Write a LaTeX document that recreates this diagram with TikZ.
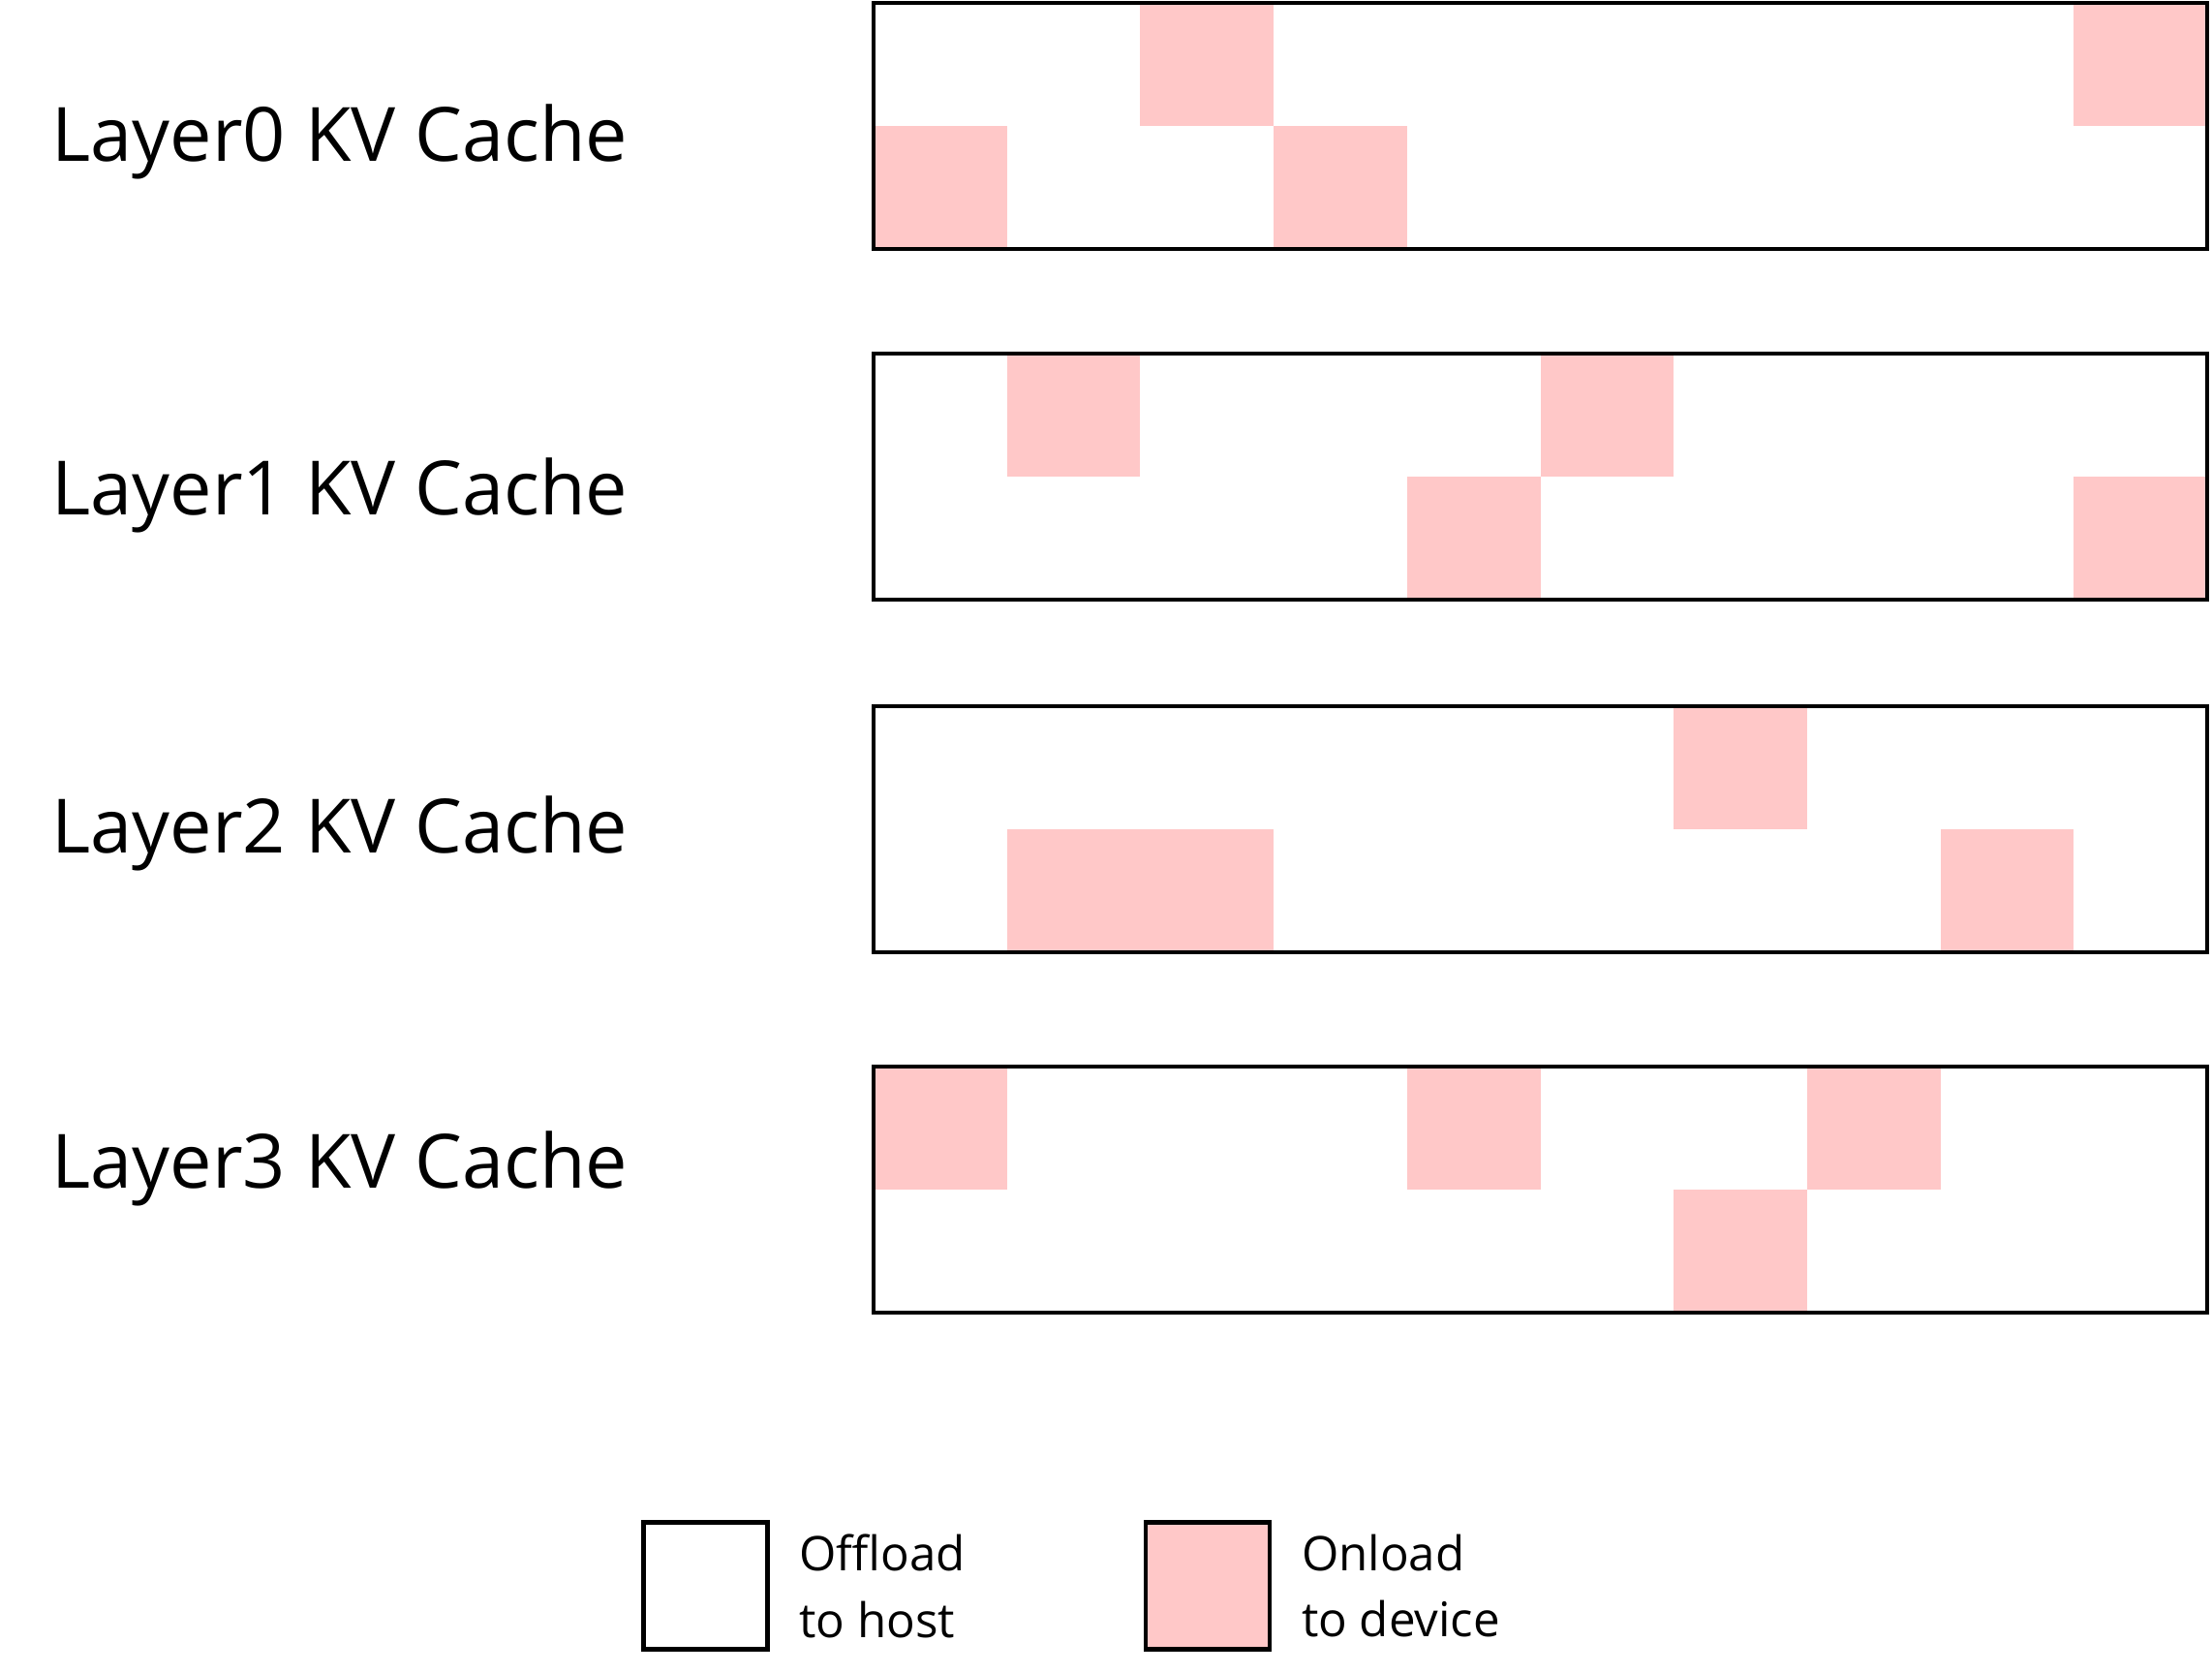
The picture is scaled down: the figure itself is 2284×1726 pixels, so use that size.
\documentclass[tikz,border=0pt]{standalone}
\usepackage{fontspec}
\setmainfont{Open Sans}
\usetikzlibrary{positioning}
\definecolor{onloadPink}{RGB}{255,200,200}
\newcommand{\kvCell}[3]{%%
  \fill[cellStyle] ({\xleft+#2*\cellw},{#1+#3*\cellh}) rectangle ++(\cellw,\cellh);
}
\newcommand{\kvLayer}[4]{%%
  \foreach \cx/\ry in {#4}{
    \kvCell{#2}{\cx}{\ry}
  };
  \draw[boxStyle] (\xleft,#2) rectangle ++({10*\cellw},{2*\cellh});
  \node[labelStyle] (layer#1) at (\xlabel,#3) {Layer#1 KV Cache};
}

\begin{document}
\begin{tikzpicture}[%%
  x=0.01cm,y=-0.01cm,%%
  boxStyle/.style={draw=black,line width=1.3pt},%%
  cellStyle/.style={fill=onloadPink},%%
  labelStyle/.style={anchor=base west,inner sep=0pt,font=\fontsize{22}{27}\selectfont},%%
  keyStyle/.style={draw=black,line width=1.3pt,minimum width=1.28cm,minimum height=1.31cm,inner sep=0pt},%%
  keyText/.style={align=left,inner sep=0pt,font=\fontsize{14}{19.6}\selectfont}
]
\useasboundingbox (0,0) rectangle (2284,1726);
%%
%%
\pgfmathsetmacro{\xleft}{902}
\pgfmathsetmacro{\cellw}{137.7}
\pgfmathsetmacro{\cellh}{127}
\pgfmathsetmacro{\xlabel}{53}
%%
%% The four layers: index, top, label baseline, onloaded cells (column/row).
\kvLayer{0}{3}{166}{2/0,9/0,0/1,3/1}
\kvLayer{1}{365}{531}{1/0,5/0,4/1,9/1}
\kvLayer{2}{729}{880}{6/0,1/1,2/1,8/1}
\kvLayer{3}{1101}{1226}{0/0,4/0,7/0,6/1}
%%
%% The legend.
\node[keyStyle] (offKey) at (728.5,1637) {};
\node[keyText,right=0.3cm of offKey] (offText) {Offload\\to host};
\node[keyStyle,fill=onloadPink] (onKey) at (1247,1637) {};
\node[keyText,right=0.3cm of onKey] (onText) {Onload\\to device};
\end{tikzpicture}
\end{document}
